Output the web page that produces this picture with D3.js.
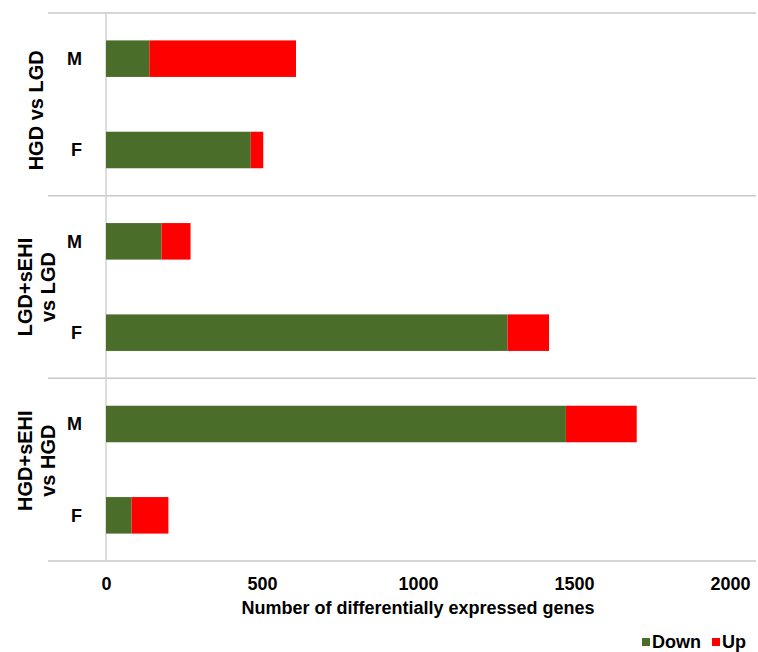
<!DOCTYPE html>
<html>
<head>
<meta charset="utf-8">
<script src="https://cdn.jsdelivr.net/npm/d3@7"></script>
<style>
  html, body { margin: 0; padding: 0; background: #fff; }
  svg { display: block; font-family: "Liberation Sans", Arial, sans-serif; }
</style>
</head>
<body>
<svg id="chart" width="758" height="652"></svg>
<script>
// Comparisons (top to bottom), each split by sex
const groups = ["HGD vs LGD", "LGD+sEHI vs LGD", "HGD+sEHI vs HGD"];
const groupLines = [["HGD vs LGD"], ["LGD+sEHI", "vs LGD"], ["HGD+sEHI", "vs HGD"]];
const sexes = ["M", "F"];

// Number of differentially expressed genes, in order: group1 M, group1 F, group2 M, ...
const downCounts = [139, 464, 178, 1287, 1474, 82];
const upCounts   = [470, 40, 93, 133, 227, 118];

const xTicks = [0, 500, 1000, 1500, 2000];
const seriesNames = ["Down", "Up"];
const seriesColors = ["#4a6e2a", "#fe0000"];

const svg = d3.select("#chart");

const x = d3.scaleLinear().domain([0, 2000]).range([106, 730]);
const yGroup = d3.scaleBand().domain(groups).range([13, 561]).padding(0);
const ySex = d3.scaleBand().domain(sexes).range([0, yGroup.bandwidth()])
  .paddingInner(0.6).paddingOuter(0.3);

const rows = [];
groups.forEach((g, gi) => {
  sexes.forEach((s, si) => {
    const i = gi * sexes.length + si;
    rows.push({ group: g, sex: s, down: downCounts[i], up: upCounts[i] });
  });
});

// Group separators
const seps = [yGroup(groups[0])].concat(groups.map(g => yGroup(g) + yGroup.bandwidth()));
svg.append("g").selectAll("line").data(seps).join("line")
  .attr("x1", 48).attr("x2", 756)
  .attr("y1", d => d).attr("y2", d => d)
  .attr("stroke", "#c9c9c9").attr("stroke-width", 1.5);

// Vertical baseline at zero
svg.append("line")
  .attr("x1", x(0)).attr("x2", x(0))
  .attr("y1", 13).attr("y2", 561)
  .attr("stroke", "#d2d2d2").attr("stroke-width", 1.5);

// Stacked bars
const stack = d3.stack().keys(["down", "up"]);
const stacked = stack(rows);
const barG = svg.append("g");
stacked.forEach((layer, li) => {
  barG.append("g").attr("fill", seriesColors[li])
    .selectAll("rect").data(layer).join("rect")
    .attr("x", d => x(d[0]))
    .attr("width", d => x(d[1]) - x(d[0]))
    .attr("y", d => yGroup(d.data.group) + ySex(d.data.sex))
    .attr("height", ySex.bandwidth());
});

// Sex labels
svg.append("g").selectAll("text").data(rows).join("text")
  .attr("x", 82)
  .attr("y", d => yGroup(d.group) + ySex(d.sex) + ySex.bandwidth() / 2)
  .attr("dy", "0.35em")
  .attr("text-anchor", "end")
  .attr("font-size", 18).attr("font-weight", "bold").attr("fill", "#000")
  .text(d => d.sex);

// Group labels (rotated)
const groupLabelShift = [6, 0, -9];
groups.forEach((g, gi) => {
  const cy = yGroup(g) + yGroup.bandwidth() / 2 + groupLabelShift[gi];
  const lines = groupLines[gi];
  const baseX = lines.length === 1 ? 36 : 25;
  lines.forEach((ln, li) => {
    const cx = baseX + li * 23;
    svg.append("text")
      .attr("transform", `translate(${cx},${cy}) rotate(-90)`)
      .attr("text-anchor", "middle")
      .attr("dy", "0.36em")
      .attr("font-size", 20).attr("font-weight", "bold").attr("fill", "#000")
      .text(ln);
  });
});

// X axis
const xAxis = svg.append("g")
  .attr("transform", "translate(0,570)")
  .call(d3.axisBottom(x).tickValues(xTicks).tickSize(0).tickPadding(0).tickFormat(d3.format("d")));
xAxis.select(".domain").remove();
xAxis.selectAll("text")
  .attr("dy", "1.1em")
  .attr("font-family", "Liberation Sans, Arial, sans-serif")
  .attr("font-size", 18).attr("font-weight", "bold").attr("fill", "#000");

svg.append("text")
  .attr("x", (x(0) + x(2000)) / 2)
  .attr("y", 614)
  .attr("text-anchor", "middle")
  .attr("font-size", 18).attr("font-weight", "bold").attr("fill", "#000")
  .text("Number of differentially expressed genes");

// Legend
const legend = svg.append("g");
const legendItems = [{ name: seriesNames[0], color: seriesColors[0], x: 642 },
                     { name: seriesNames[1], color: seriesColors[1], x: 712 }];
legendItems.forEach(it => {
  legend.append("rect").attr("x", it.x).attr("y", 638).attr("width", 8).attr("height", 8)
    .attr("fill", it.color);
  legend.append("text").attr("x", it.x + 10).attr("y", 648)
    .attr("font-size", 18).attr("font-weight", "bold").attr("fill", "#000")
    .text(it.name);
});
</script>
</body>
</html>
